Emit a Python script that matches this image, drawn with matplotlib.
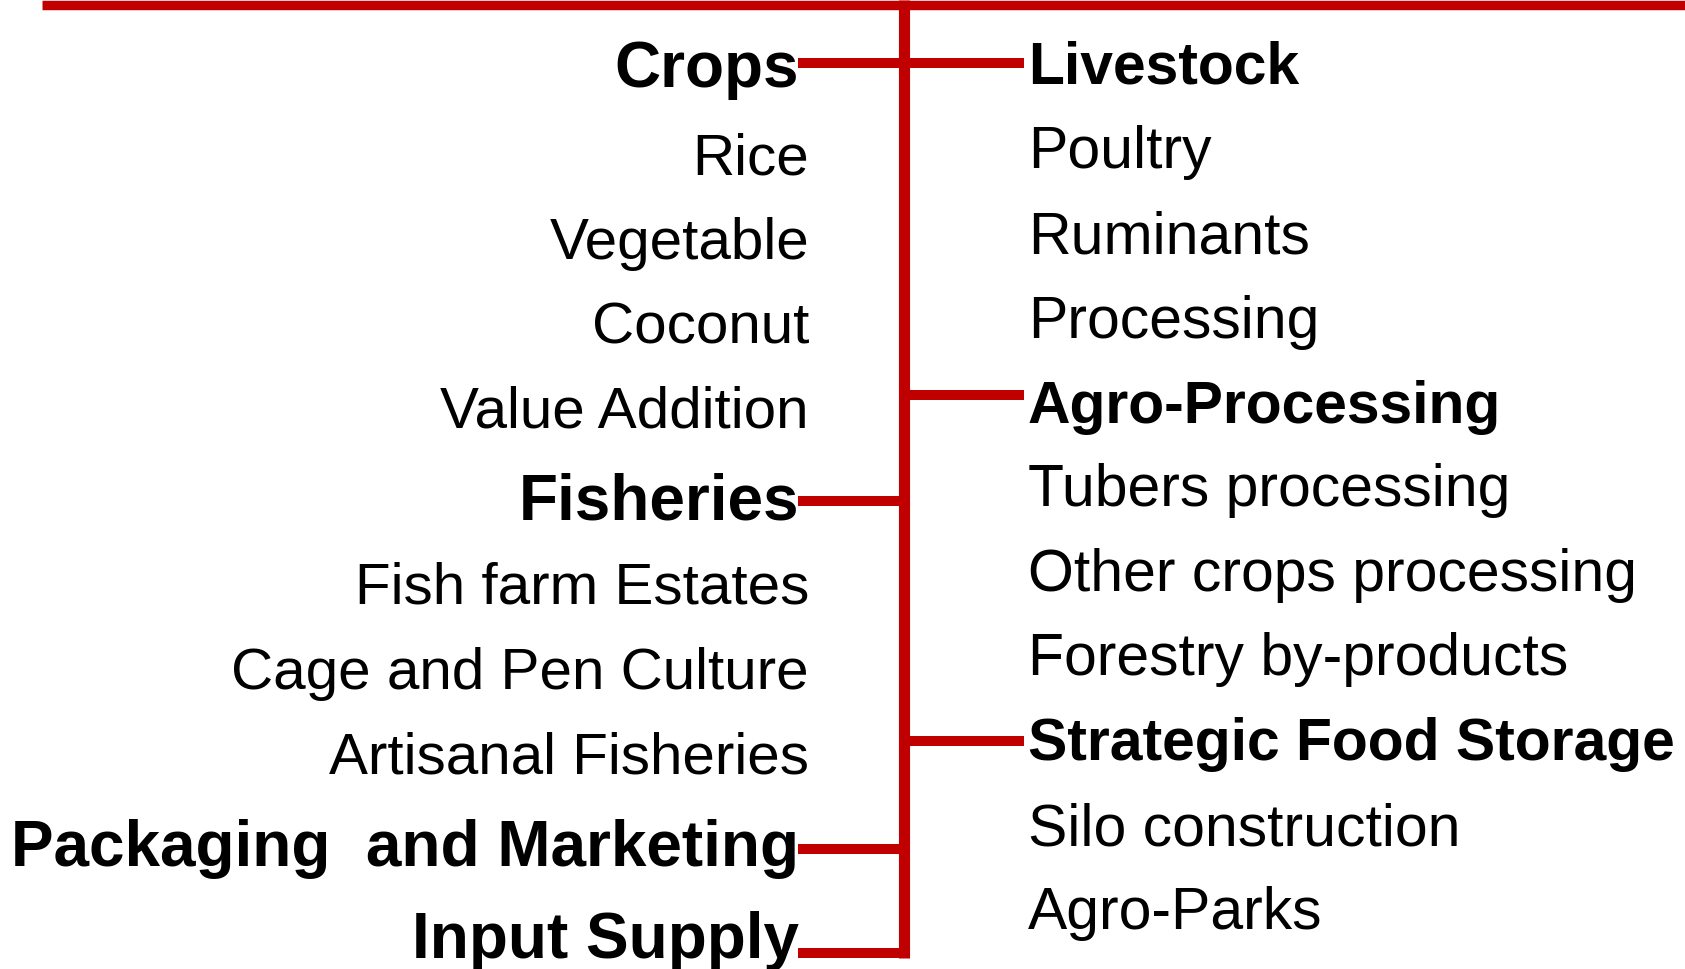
import matplotlib
matplotlib.use("Agg")
import matplotlib.pyplot as plt

# ---- data ----
left_labels = ["Crops", "Rice", "Vegetable", "Coconut", "Value Addition",
               "Fisheries", "Fish farm Estates", "Cage and Pen Culture",
               "Artisanal Fisheries", "Packaging  and Marketing", "Input Supply"]
left_is_header = [True, False, False, False, False,
                  True, False, False, False, True, True]
right_labels = ["Livestock", "Poultry", "Ruminants", "Processing",
                "Agro-Processing", "Tubers processing", "Other crops processing",
                "Forestry by-products", "Strategic Food Storage",
                "Silo construction", "Agro-Parks"]
right_is_header = [True, False, False, False, True,
                   False, False, False, True, False, False]

# ---- layout (pixel coordinates of the 1685x969 canvas) ----
W, H = 1685, 969
left_baselines = [87, 174, 259, 343, 428, 519, 604, 689, 773, 866, 958]
right_baselines = [83, 168, 253, 338, 423, 506, 591, 675, 760, 845, 929]
left_branch_y = {0: 63, 5: 501, 9: 849, 10: 953}
right_branch_y = {0: 63, 4: 395, 8: 741}

RED = "#C00000"
FONT = "Liberation Sans"

fig = plt.figure(figsize=(W / 100, H / 100), dpi=100)
ax = fig.add_axes([0, 0, 1, 1])
ax.set_xlim(0, W)
ax.set_ylim(H, 0)
ax.axis("off")

trunk_x = 904
# top bar
ax.plot([42, W], [4.5, 4.5], color=RED, lw=6.8, solid_capstyle="butt")
# trunk
ax.plot([trunk_x, trunk_x], [0, 958], color=RED, lw=8.0, solid_capstyle="butt")
# branches
for i, y in left_branch_y.items():
    ax.plot([798, trunk_x], [y, y], color=RED, lw=7.2, solid_capstyle="butt")
for i, y in right_branch_y.items():
    ax.plot([trunk_x, 1024], [y, y], color=RED, lw=7.2, solid_capstyle="butt")

for lab, hdr, yb in zip(left_labels, left_is_header, left_baselines):
    if hdr:
        ax.text(799, yb, lab, ha="right", va="baseline", fontsize=46,
                fontweight="bold", family=FONT, color="black")
    else:
        ax.text(809, yb, lab, ha="right", va="baseline", fontsize=42,
                family=FONT, color="black")

for lab, hdr, yb in zip(right_labels, right_is_header, right_baselines):
    ax.text(1028, yb, lab, ha="left", va="baseline", fontsize=42.4,
            fontweight="bold" if hdr else "normal", family=FONT, color="black")

fig.savefig("out.png", dpi=100)
